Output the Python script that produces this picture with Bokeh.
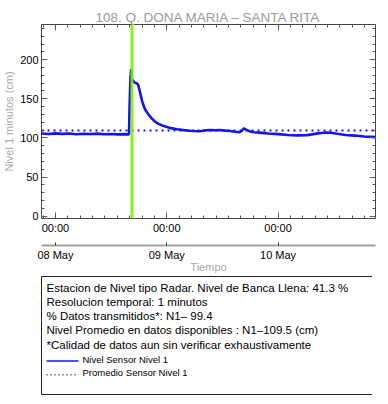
import pandas as pd
from bokeh.plotting import figure
from bokeh.models import (Range1d, LinearAxis, FixedTicker, CustomJSTickFormatter,
                          Span, ColumnDataSource)
from bokeh.layouts import column
from bokeh.embed import file_html
from bokeh.resources import INLINE
from bokeh.core.properties import value

# ---------------- data ----------------
titulo = "108. Q. DONA MARIA \u2013 SANTA RITA"
tiempos = [
    "2024-05-07 21:00", "2024-05-07 22:30", "2024-05-08 00:00", "2024-05-08 01:30",
    "2024-05-08 03:00", "2024-05-08 04:30", "2024-05-08 06:00", "2024-05-08 07:30",
    "2024-05-08 09:00", "2024-05-08 10:30", "2024-05-08 12:00", "2024-05-08 13:30",
    "2024-05-08 15:00", "2024-05-08 15:52", "2024-05-08 15:58", "2024-05-08 16:05",
    "2024-05-08 16:12", "2024-05-08 16:20", "2024-05-08 16:26", "2024-05-08 16:40",
    "2024-05-08 17:00", "2024-05-08 17:30", "2024-05-08 17:50", "2024-05-08 18:20",
    "2024-05-08 18:41", "2024-05-08 19:05", "2024-05-08 19:23", "2024-05-08 20:04",
    "2024-05-08 20:45", "2024-05-08 21:27", "2024-05-08 22:08", "2024-05-08 23:00",
    "2024-05-08 23:45", "2024-05-09 00:53", "2024-05-09 02:16", "2024-05-09 03:39",
    "2024-05-09 05:00", "2024-05-09 06:00", "2024-05-09 07:05", "2024-05-09 08:28",
    "2024-05-09 09:30", "2024-05-09 10:33", "2024-05-09 11:30", "2024-05-09 12:37",
    "2024-05-09 13:40", "2024-05-09 14:41", "2024-05-09 15:43", "2024-05-09 16:10",
    "2024-05-09 16:37", "2024-05-09 17:00", "2024-05-09 17:27", "2024-05-09 18:00",
    "2024-05-09 18:50", "2024-05-09 20:33", "2024-05-09 21:56", "2024-05-10 00:00",
    "2024-05-10 02:04", "2024-05-10 04:08", "2024-05-10 06:13", "2024-05-10 07:15",
    "2024-05-10 08:17", "2024-05-10 09:20", "2024-05-10 10:21", "2024-05-10 11:20",
    "2024-05-10 12:25", "2024-05-10 13:30", "2024-05-10 14:29", "2024-05-10 16:33",
    "2024-05-10 18:37", "2024-05-10 20:54",
]
nivel = [
    105.6, 105.0, 105.8, 105.2,
    105.6, 104.8, 105.4, 105.0,
    105.5, 104.7, 105.1, 104.5,
    104.8, 104.6, 135.0, 160.0,
    178.0, 188.0, 172.0, 174.0,
    171.0, 170.0, 168.0, 156.0,
    147.0, 140.0, 136.0, 130.0,
    125.0, 121.0, 118.3, 116.0,
    114.5, 112.5, 111.0, 110.0,
    109.2, 108.8, 108.6, 109.8,
    110.2, 109.9, 110.1, 109.3,
    108.8, 108.0, 107.2, 109.0,
    112.3, 111.0, 109.7, 108.2,
    107.3, 106.5, 105.6, 104.9,
    103.8, 103.2, 103.6, 104.5,
    105.5, 106.4, 107.0, 106.6,
    105.6, 104.8, 103.8, 103.0,
    101.8, 101.0,
]
promedio = 109.5
evento = "2024-05-08 16:30"
inicio, fin = "2024-05-07 21:00", "2024-05-10 21:00"
y_ticks = [0, 50, 100, 150, 200]
dias = ["2024-05-08", "2024-05-09", "2024-05-10"]
etiquetas_hora = ["00:00", "00:00", "00:00"]
etiquetas_dia = ["08 May", "09 May", "10 May"]
texto = [
    "Estacion de Nivel tipo Radar. Nivel de Banca Llena: 41.3 %",
    "Resolucion temporal: 1 minutos",
    "% Datos transmitidos*: N1\u2013 99.4",
    "Nivel Promedio en datos disponibles : N1\u2013109.5 (cm)",
    "*Calidad de datos aun sin verificar exhaustivamente",
]
leyenda = ["Nivel Sensor Nivel 1", "Promedio Sensor Nivel 1"]

FONT = "Liberation Sans"
BLUE = "#1414f0"


def ms(s):
    return pd.Timestamp(s).value / 1e6


day_ms = [ms(d) for d in dias]
step = 160 * 60000
minor_ms = [day_ms[0] + i * step for i in range(-2, 30) if ms(inicio) <= day_ms[0] + i * step <= ms(fin)]
y_minor = list(range(0, 245, 10))

src = ColumnDataSource(dict(t=pd.to_datetime(tiempos), v=nivel))

p = figure(x_axis_type=None, y_axis_type=None,
           x_range=Range1d(ms(inicio), ms(fin)), y_range=Range1d(-3, 245),
           frame_width=334, frame_height=194,
           min_border_left=37, min_border_right=1, min_border_top=0, min_border_bottom=0,
           output_backend="svg", toolbar_location=None,
           background_fill_color="white", border_fill_color="white")
p.outline_line_color = "#444444"
p.outline_line_width = 1
p.title.visible = False

empty_code = "return '';"
fmt_code = "const i = tk.indexOf(tick); return i >= 0 ? lb[i] : '';"


def style(ax):
    ax.major_tick_in = 6
    ax.major_tick_out = 0
    ax.minor_tick_in = 3
    ax.minor_tick_out = 0
    ax.major_tick_line_color = "#666666"
    ax.minor_tick_line_color = "#555555"
    ax.axis_line_color = None
    ax.major_label_text_font = FONT
    ax.major_label_text_font_size = "11px"
    ax.major_label_text_color = "black"
    ax.major_label_standoff = 3
    ax.axis_label_text_font = FONT
    ax.axis_label_text_font_style = "normal"
    ax.axis_label_text_font_size = "11px"
    ax.axis_label_text_color = "#a8a8a8"


left = LinearAxis(ticker=FixedTicker(ticks=y_ticks, minor_ticks=y_minor))
style(left)
left.axis_label = "Nivel 1 minutos (cm)"
left.axis_label_standoff = 2
p.add_layout(left, "left")

right = LinearAxis(ticker=FixedTicker(ticks=y_ticks, minor_ticks=y_minor),
                   formatter=CustomJSTickFormatter(code=empty_code))
style(right)
right.major_label_standoff = 0
p.add_layout(right, "right")

# top axis: ticks only, chart title as its label
top = LinearAxis(ticker=FixedTicker(ticks=day_ms, minor_ticks=minor_ms),
                 formatter=CustomJSTickFormatter(code=empty_code))
style(top)
top.major_label_standoff = 0
top.major_label_text_font_size = "2px"
top.axis_label = titulo
top.axis_label_text_font_size = "13.5px"
top.axis_label_text_color = "#9a9a9a"
top.axis_label_standoff = 0
p.add_layout(top, "above")

# thin empty band above the title so that it is not clipped
pad = LinearAxis(ticker=FixedTicker(ticks=[]), formatter=CustomJSTickFormatter(code=empty_code))
pad.axis_line_color = None
pad.major_tick_line_color = None
pad.minor_tick_line_color = None
pad.major_label_standoff = 0
pad.major_label_text_font_size = "2px"
pad.axis_label = " "
pad.axis_label_text_font_size = "2px"
pad.axis_label_standoff = 1
p.add_layout(pad, "above")

bot1 = LinearAxis(ticker=FixedTicker(ticks=day_ms, minor_ticks=minor_ms),
                  formatter=CustomJSTickFormatter(args=dict(tk=day_ms, lb=etiquetas_hora), code=fmt_code))
style(bot1)
bot1.major_label_standoff = 3
bot1.axis_label = " "
bot1.axis_label_text_font_size = "4px"
bot1.axis_label_standoff = 1
p.add_layout(bot1, "below")

bot2 = LinearAxis(ticker=FixedTicker(ticks=day_ms, minor_ticks=[]),
                  formatter=CustomJSTickFormatter(args=dict(tk=day_ms, lb=etiquetas_dia), code=fmt_code))
style(bot2)
bot2.axis_line_color = "#a0a0a0"
bot2.axis_line_width = 2
bot2.major_tick_in = 3
bot2.major_tick_line_color = "#333333"
bot2.major_label_standoff = 3
bot2.axis_label = "Tiempo"
bot2.axis_label_standoff = -3
p.add_layout(bot2, "below")

p.line("t", "v", source=src, line_color=BLUE, line_width=2.6)
p.add_layout(Span(location=promedio, dimension="width", line_color=BLUE,
                  line_width=2, line_dash="2 4"))
p.add_layout(Span(location=ms(evento), dimension="height", line_color="#7cf000",
                  line_width=3, line_alpha=0.9))

# ---------------- info box ----------------
BW, BH = 340, 118
q = figure(x_axis_type=None, y_axis_type=None,
           x_range=Range1d(0, BW), y_range=Range1d(0, BH),
           frame_width=BW, frame_height=BH,
           min_border_left=31, min_border_right=1, min_border_top=1, min_border_bottom=1,
           output_backend="svg", toolbar_location=None,
           background_fill_color="white", border_fill_color="white")
q.outline_line_color = "#222222"
q.outline_line_width = 1

line_gap = 14.3
ys = [BH - 11 - i * line_gap for i in range(len(texto))]
q.text(x=[5] * len(texto), y=ys, text=texto, text_font=value(FONT),
       text_font_size=value("11.5px"), text_color="black", text_baseline="middle")

ly = [ys[-1] - line_gap, ys[-1] - 2 * line_gap + 0.5]
q.text(x=[41] * 2, y=ly, text=leyenda, text_font=value(FONT),
       text_font_size=value("9.5px"), text_color="black", text_baseline="middle")
q.line([5, 37], [ly[0] - 2, ly[0] - 2], line_color=BLUE, line_width=1.5)
q.line([5, 37], [ly[1] - 2, ly[1] - 2], line_color=BLUE, line_width=1.5, line_dash="1 3")

layout = column(p, q, spacing=0)
open("out.html", "w").write(file_html(layout, INLINE))
